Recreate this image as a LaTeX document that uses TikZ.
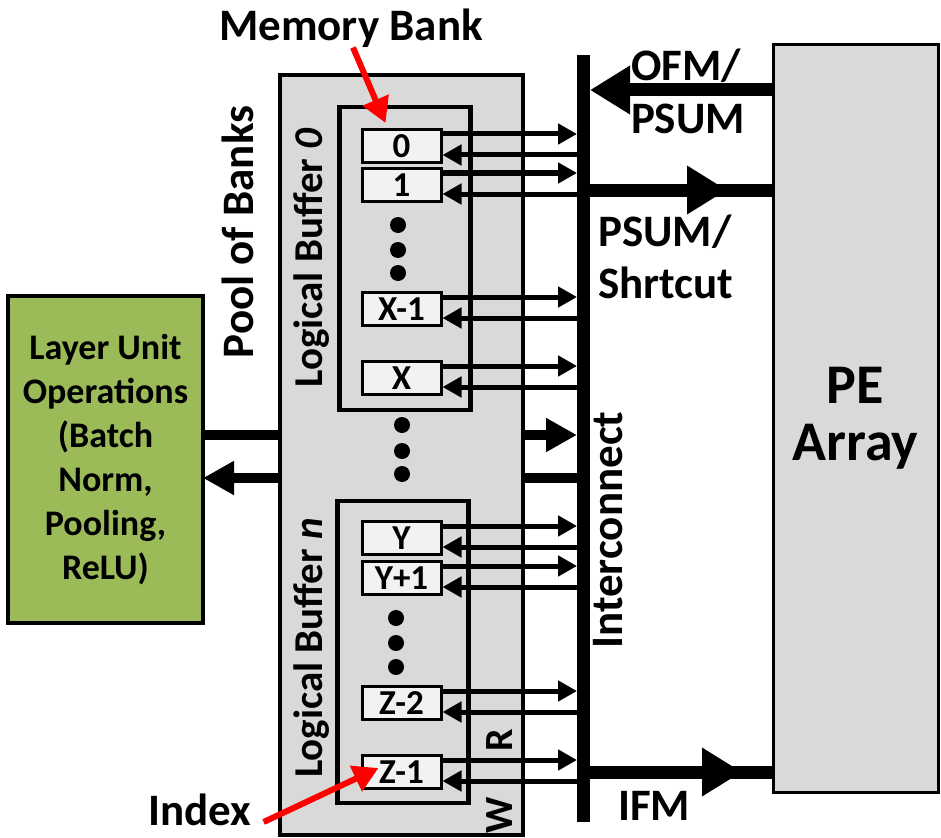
\documentclass[tikz,border=0pt]{standalone}
\usepackage{fontspec}
\setmainfont{Carlito}
\usetikzlibrary{arrows.meta}
\definecolor{poolgray}{HTML}{D9D9D9}
\definecolor{bankfill}{HTML}{F2F2F2}
\definecolor{lugreen}{HTML}{9BBB59}
\newcommand{\bank}[3]{\node[bankbox] (#1) at (401.5,#2) {#3};
 	\draw[bankarr] ([yshift=12pt]#1.east) -- ([yshift=12pt]#1.east -| bar.west);
 	\draw[bankarr] ([yshift=-9pt]#1.east -| bar.west) -- ([yshift=-9pt]#1.east)}

\begin{document}
\begin{tikzpicture}[x=1pt,y=-1pt,
	unitbox/.style={draw,line width=4.5pt,inner sep=0pt,outer sep=0pt},
	bankbox/.style={draw,fill=bankfill,line width=3pt,minimum width=79pt,minimum height=33pt,inner sep=0pt,font=\fontsize{35}{35}\selectfont\bfseries},
	bankarr/.style={line width=5pt,-{Triangle[length=19pt,width=20pt]}},
	busarr/.style={line width=10pt,-{Triangle[length=31pt,width=32pt]}},
	busline/.style={line width=10pt},
	pearr/.style={line width=13pt,-{Triangle[length=40pt,width=46pt]}},
	peline/.style={line width=13pt},
	redarr/.style={red,line width=6pt,-{Triangle[length=25pt,width=27pt]}},
	lbl/.style={inner sep=0pt,font=\fontsize{45}{48}\selectfont\bfseries}]
	\useasboundingbox (0,0) rectangle (941,837);
		\node[unitbox,fill=poolgray,minimum width=243pt,minimum height=760pt] (pool) at (401.5,455) {};
		\node[unitbox,minimum width=131pt,minimum height=303pt] (buf0) at (405,258.5) {};
		\node[unitbox,minimum width=131pt,minimum height=302pt] (bufn) at (403,652) {};
		\node[fill=black,minimum width=13pt,minimum height=767pt,inner sep=0pt,outer sep=0pt] (bar) at (583.5,438.5) {};
		\node[unitbox,fill=lugreen,minimum width=195pt,minimum height=327pt,align=center,font=\fontsize{36}{44}\selectfont\bfseries] (lu) at (105.5,459.5) {Layer Unit\\Operations\\(Batch\\Norm,\\Pooling,\\ReLU)};
		\node[draw,line width=3pt,fill=poolgray,minimum width=165pt,minimum height=747pt,inner sep=0pt,outer sep=0pt,align=center,font=\fontsize{56}{57}\selectfont\bfseries] (pe) at (855.5,418.5) {PE\\Array};
			\bank{b0}{146}{0};
			\bank{b1}{185}{1};
			\bank{bxm}{309}{X-1};
			\bank{bx}{378}{X};
			\bank{by}{538}{Y};
			\bank{byp}{578}{Y+1};
			\bank{bzm}{703}{Z-2};
			\bank{bzl}{772}{Z-1};
		\foreach \x/\y in {398/225,398/250,398/273,402/425,402/451,402/474,396/618,396/643,396/667}
			\fill (\x,\y) circle (8pt);
		% links to the layer unit and the interconnect
		\coordinate (ylo) at (0,435);
		\coordinate (yhi) at (0,478);
		\draw[busline] (lu.east |- ylo) -- (pool.west |- ylo);
		\draw[busarr] (pool.west |- yhi) -- (lu.east |- yhi);
		\draw[busarr] (pool.east |- ylo) -- (bar.west |- ylo);
		\draw[busline] (pool.east |- yhi) -- (bar.west |- yhi);
		% links to the PE array
		\coordinate (yofm) at (0,90);
		\coordinate (psum) at (727,190);
		\coordinate (ifm) at (742,772);
		\draw[pearr] (pe.west |- yofm) -- (bar.east |- yofm);
		\draw[pearr] (bar.east |- psum) -- (psum);
		\draw[peline] ([xshift=-18pt]psum) -- (pe.west |- psum);
		\draw[pearr] (bar.east |- ifm) -- (ifm);
		\draw[peline] ([xshift=-18pt]ifm) -- (pe.west |- ifm);
		% labels
		\node[lbl] (membank) at (351,28) {Memory Bank};
		\node[lbl] (index) at (200,810) {Index};
		\draw[redarr] ([xshift=2pt]membank.south) -- ([xshift=25pt,yshift=5pt]b0.north west);
		\draw[redarr] ([xshift=12pt,yshift=-12pt]index.east) -- ([xshift=18pt,yshift=4pt]bzl.west);
		\node[lbl] (ofm) at (686,66) {OFM/};
		\node[lbl] (ofm2) at (688,119) {PSUM};
		\node[lbl] (psum1) at (665,232) {PSUM/};
		\node[lbl] (psum2) at (666,283) {Shrtcut};
		\node[lbl] (ifmlbl) at (654,806) {IFM};
		\node[lbl,rotate=90] (ic) at (608,530) {Interconnect};
		\node[lbl,rotate=90] (poollbl) at (238,232) {Pool of Banks};
		\node[lbl,rotate=90,font=\fontsize{41}{44}\selectfont\bfseries] (buf0lbl) at (312,258) {Logical Buffer \textit{0}};
		\node[lbl,rotate=90,font=\fontsize{41}{44}\selectfont\bfseries] (bufnlbl) at (312,648) {Logical Buffer \textit{n}};
		\node[lbl,rotate=90,font=\fontsize{40}{44}\selectfont\bfseries] (rd) at (500,740) {R};
		\node[lbl,rotate=90,font=\fontsize{40}{44}\selectfont\bfseries] (wr) at (500,815) {W};
\end{tikzpicture}
\end{document}
